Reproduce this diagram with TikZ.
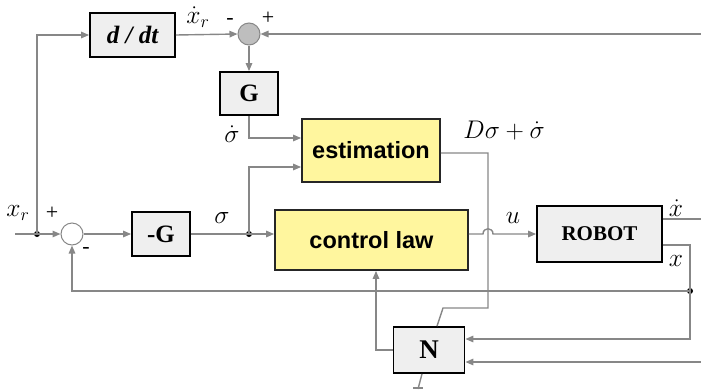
\RequirePackage{fix-cm}
\documentclass[tikz,border=0pt]{standalone}
\usepackage{fontspec}
\setmainfont{Liberation Serif}
\newfontfamily\arialf{Liberation Sans}
\usetikzlibrary{arrows.meta,calc}
\definecolor{boxgray}{RGB}{239,239,239}
\definecolor{boxyellow}{RGB}{255,246,158}
\definecolor{linegray}{RGB}{135,135,135}
\definecolor{sumgray}{RGB}{190,190,190}
\tikzset{
  gbox/.style={draw=black,line width=1.8pt,fill=boxgray,inner sep=0pt,font=\fontsize{25}{28}\selectfont\bfseries},
  ybox/.style={draw=black!85,line width=1.8pt,fill=boxyellow,inner sep=0pt,font=\fontsize{23.5}{27}\selectfont\arialf\bfseries},
  sumnode/.style={circle,draw=linegray,line width=1pt,minimum size=22pt,inner sep=0pt},
  conn/.style={draw=linegray,line width=1.4pt},
  arr/.style={conn,-{Triangle[length=8pt,width=6.5pt]},color=linegray},
  lbl/.style={inner sep=0pt,font=\fontsize{25.5}{28}\selectfont},
  sgn/.style={inner sep=0pt,font=\fontsize{22}{24}\selectfont},
  jdot/.style={circle,fill=black,inner sep=0pt,minimum size=6pt}
}
\begin{document}
\begin{tikzpicture}[x=1pt,y=-1pt]
\useasboundingbox (0,0) rectangle (701,389);
% blocks
\node[gbox,minimum width=85pt,minimum height=44pt] (ddt) at (132.5,35) {\itshape d / dt};
\node[sumnode,fill=sumgray] (sumT) at (249,34) {};
\node[gbox,minimum width=58pt,minimum height=43pt] (G) at (249,93.5) {G};
\node[ybox,minimum width=138pt,minimum height=63pt] (est) at (371,150.5) {estimation};
\node[ybox,minimum width=193pt,minimum height=60pt] (ctrl) at (371.5,240) {control law};
\node[gbox,minimum width=58pt,minimum height=44pt] (mG) at (161,234) {-G};
\node[sumnode,fill=white] (sumL) at (72,234) {};
\node[gbox,minimum width=125pt,minimum height=56pt,font=\fontsize{21}{24}\selectfont\bfseries] (rob) at (599.5,234) {ROBOT};
\node[gbox,minimum width=71pt,minimum height=46pt,font=\fontsize{27}{30}\selectfont\bfseries] (N) at (429,350) {N};
% coordinates
\coordinate (in) at (15,234);
\node[jdot] (jL) at (37,234) {};
\node[jdot] (jS) at (249,234) {};
\node[jdot] (jR) at (690,291) {};
\coordinate (rtop) at (701,34);
\coordinate (xdout) at (701,219);
\coordinate (nin2) at (701,362);
\coordinate (nbot) at (418,389);
% connectors
\draw[conn] (in) -- (jL.center);
\draw[arr] (jL.center) -- (sumL.west);
\draw[arr] (jL.center) |- (ddt.west);
\draw[arr] (ddt.east) -- (sumT.west);
\draw[arr] (rtop) -- (sumT.east);
\draw[arr] (sumT.south) -- (G.north);
\draw[arr] (G.south) |- ([yshift=12.5pt]est.west);
\draw[arr] (sumL.east) -- (mG.west);
\draw[conn] (mG.east) -- (jS.center);
\draw[arr] (jS.center) -- ([yshift=6pt]ctrl.west);
\draw[arr] (jS.center) |- ([yshift=-16.5pt]est.west);
\draw[conn] ([yshift=-2.5pt]est.east) -- (488,153) -- (488,308) -- (443,308) -- ([xshift=8pt]N.north);
\draw[arr] ([yshift=6pt]ctrl.east) -- (483,234) .. controls (483,227) and (493,227) .. (493,234) -- (rob.west);
\draw[conn] ([yshift=15pt]rob.east) -- (xdout);
\draw[arr] ([yshift=-11pt]rob.east) -- (690,245) -- (690,339) -- ([yshift=11pt]N.east);
\draw[arr] (jR.center) -- (72,291) -- (sumL.south);
\draw[arr] (nin2) -- ([yshift=-12pt]N.east);
\draw[arr] (N.west) -| ([xshift=4.5pt]ctrl.south);
\draw[conn] ([xshift=-7pt]N.south) -- (nbot);
\draw[conn] (413,388) -- (423,388);
% labels
\node[lbl] (lxr) at (198,17) {$\dot{x}_r$};
\node[sgn] (lm1) at (230,21) {-};
\node[sgn] (lp1) at (268,18) {+};
\node[lbl] (lsd) at (232,134) {$\dot{\sigma}$};
\node[lbl] (lds) at (504,131) {$D\sigma+\dot{\sigma}$};
\node[lbl] (ls) at (222,218) {$\sigma$};
\node[lbl] (lx) at (18,213) {$x_r$};
\node[sgn] (lp2) at (52,213) {+};
\node[sgn] (lm2) at (86,250) {-};
\node[lbl] (lu) at (513,218) {$u$};
\node[lbl] (lxd) at (676,208) {$\dot{x}$};
\node[lbl] (lxx) at (676,261) {$x$};
\end{tikzpicture}
\end{document}
